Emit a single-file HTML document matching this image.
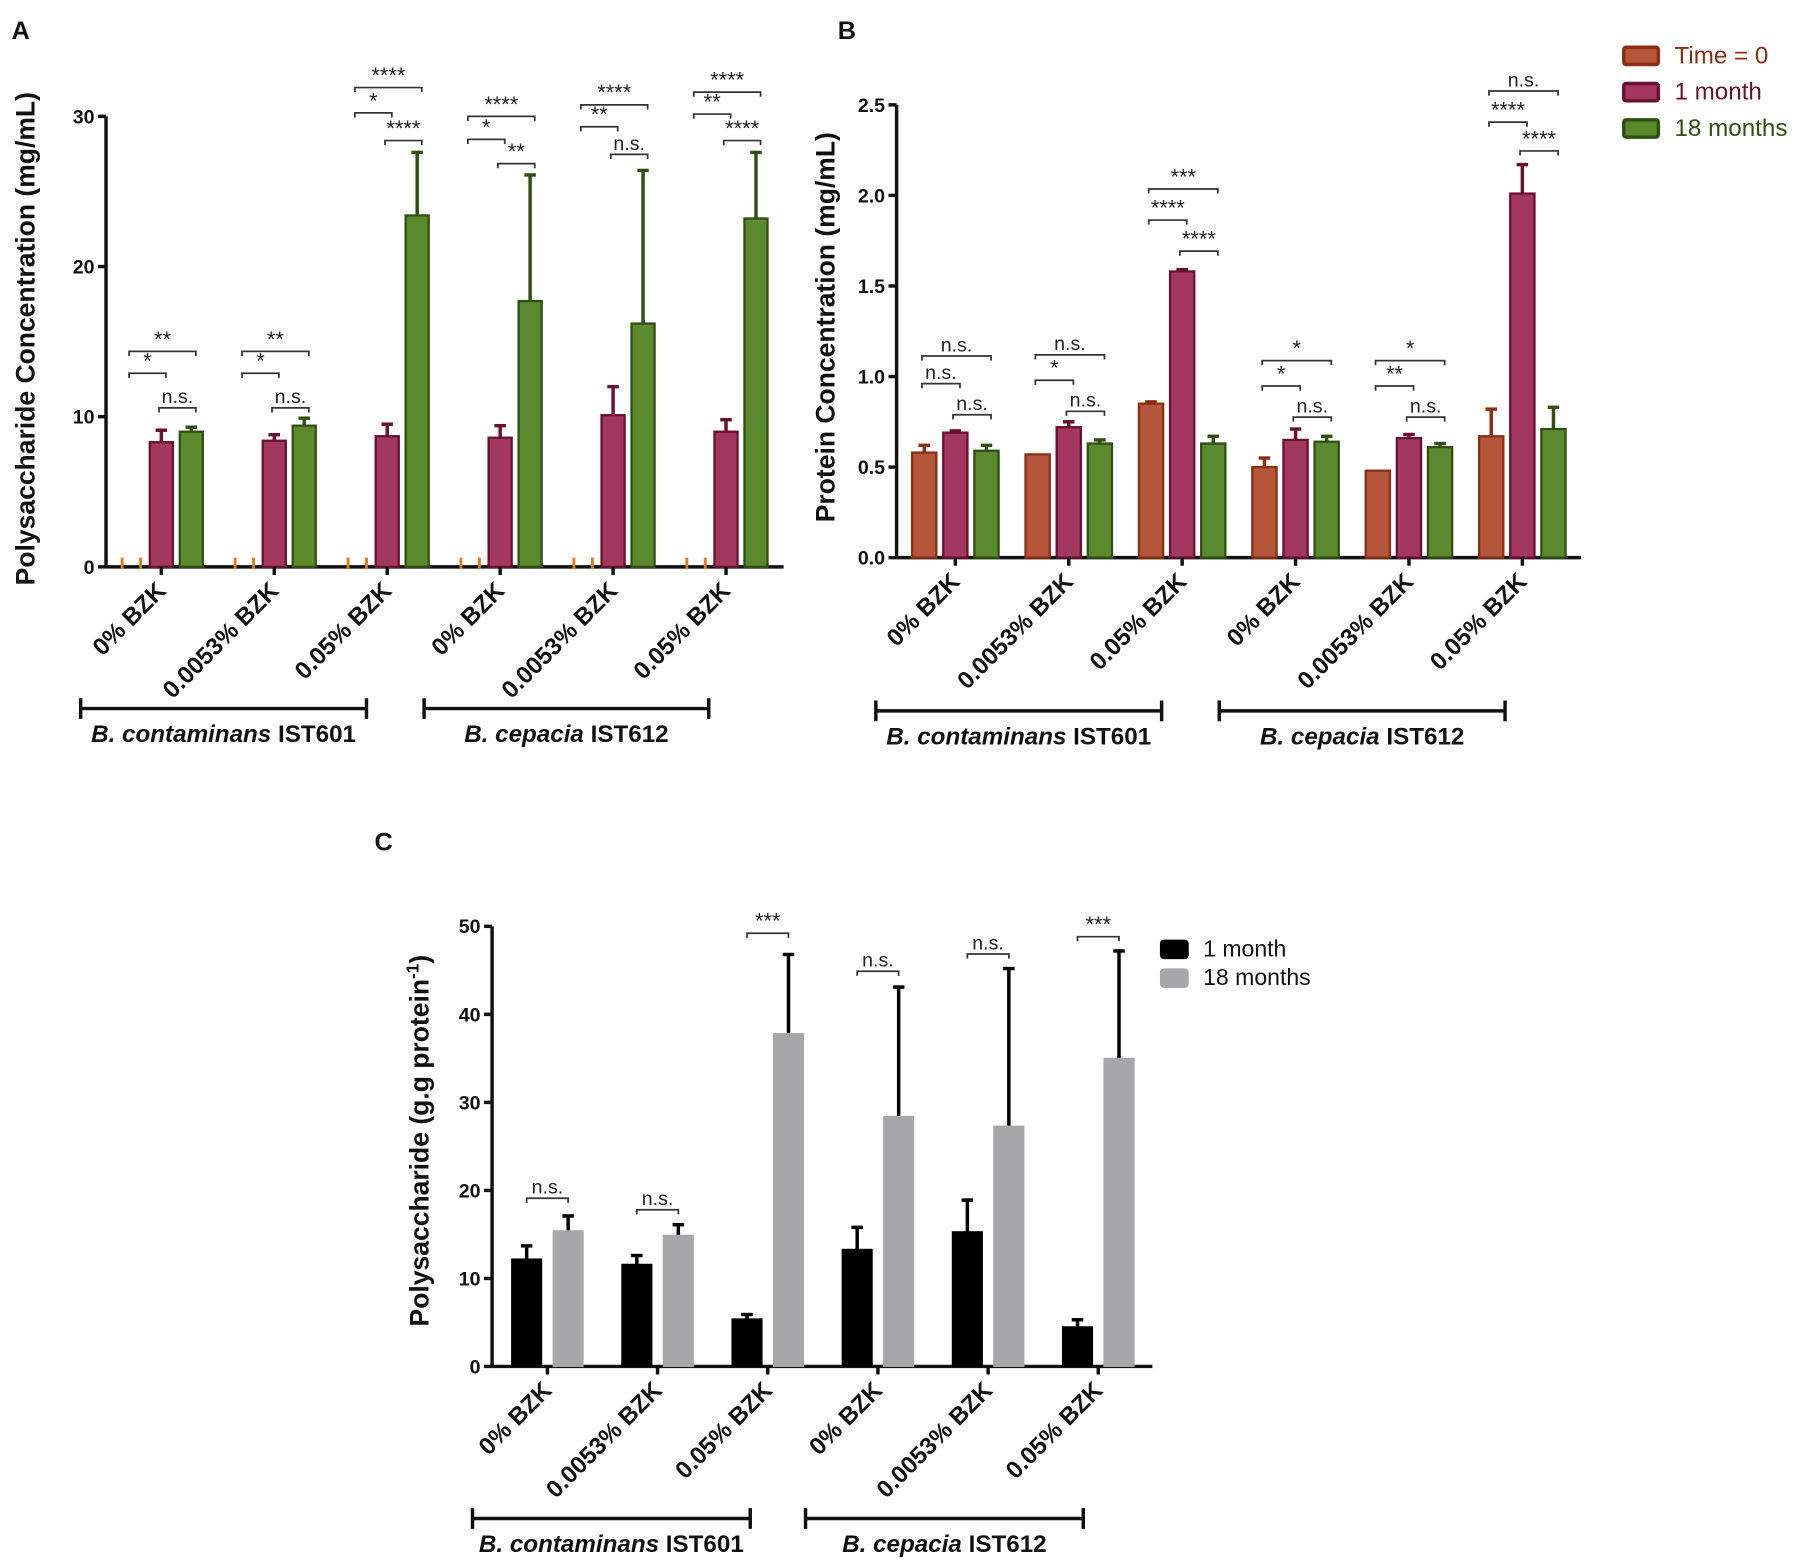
<!DOCTYPE html>
<html><head><meta charset="utf-8"><style>
html,body{margin:0;padding:0;background:#fff}
svg{display:block}
text{font-family:"Liberation Sans",sans-serif}
</style></head><body>
<svg id="fig" width="1807" height="1560" viewBox="0 0 1568 1354" preserveAspectRatio="none" xmlns="http://www.w3.org/2000/svg"></svg>
<script>
// ---------- Panel A data ----------
const catsA = ["0% BZK","0.0053% BZK","0.05% BZK","0% BZK","0.0053% BZK","0.05% BZK"];
const aT0 = [0,0,0,0,0,0];
const aM1 = [8.3,8.4,8.7,8.6,10.1,9.0];
const aM1err = [9.1,8.8,9.5,9.4,12.0,9.8];
const aM18 = [9.0,9.4,23.4,17.7,16.2,23.2];
const aM18err = [9.3,9.9,27.6,26.1,26.4,27.6];
const ticksA = [0,10,20,30];
const sigA = [[0,0,2,305,"**"],[0,0,1,324,"*"],[0,1,2,354,"n.s."],
 [1,0,2,305,"**"],[1,0,1,324,"*"],[1,1,2,354,"n.s."],
 [2,0,2,76,"****"],[2,0,1,98,"*"],[2,1,2,122,"****"],
 [3,0,2,101,"****"],[3,0,1,121,"*"],[3,1,2,142,"**"],
 [4,0,2,91,"****"],[4,0,1,110,"**"],[4,1,2,134,"n.s."],
 [5,0,2,80,"****"],[5,0,1,99,"**"],[5,1,2,122,"****"]];
// ---------- Panel B data ----------
const bT0 = [0.58,0.57,0.85,0.50,0.48,0.67];
const bT0err = [0.62,0.57,0.86,0.55,0.48,0.82];
const bM1 = [0.69,0.72,1.58,0.65,0.66,2.01];
const bM1err = [0.70,0.75,1.59,0.71,0.68,2.17];
const bM18 = [0.59,0.63,0.63,0.64,0.61,0.71];
const bM18err = [0.62,0.65,0.67,0.67,0.63,0.83];
const ticksB = [0,0.5,1.0,1.5,2.0,2.5];
const sigB = [[0,0,2,309,"n.s."],[0,0,1,333,"n.s."],[0,1,2,360,"n.s."],
 [1,0,2,308,"n.s."],[1,0,1,330,"*"],[1,1,2,357,"n.s."],
 [2,0,2,164,"***"],[2,0,1,191,"****"],[2,1,2,218,"****"],
 [3,0,2,313,"*"],[3,0,1,335,"*"],[3,1,2,362,"n.s."],
 [4,0,2,313,"*"],[4,0,1,335,"**"],[4,1,2,362,"n.s."],
 [5,0,2,79,"n.s."],[5,0,1,106,"****"],[5,1,2,131,"****"]];
// ---------- Panel C data ----------
const cM1 = [12.2,11.6,5.4,13.3,15.3,4.5];
const cM1err = [13.7,12.6,5.9,15.8,18.9,5.3];
const cM18 = [15.4,14.9,37.8,28.4,27.3,35.0];
const cM18err = [17.1,16.1,46.8,43.1,45.2,47.2];
const ticksC = [0,10,20,30,40,50];
const sigC = [[0,1040,"n.s."],[1,1050,"n.s."],[2,810,"***"],[3,843,"n.s."],[4,828,"n.s."],[5,813,"***"]];

const NS="http://www.w3.org/2000/svg";
const svg=document.getElementById('fig');
function el(tag,attrs,parent,txt){const e=document.createElementNS(NS,tag);for(const k in attrs)e.setAttribute(k,attrs[k]);if(txt!==undefined)e.textContent=txt;(parent||svg).appendChild(e);return e;}
function grp(name){const g=el('g',{});return g;}

const COL={t0:["#b5553a","#8b2e14"],m1:["#a3385f","#6b1030"],m18:["#5b8a2e","#2f5012"]};

function panel(o){
  const g=grp(o.name);
  const y=v=>o.y0-(v/o.ymax)*(o.y0-o.ytop);
  const gx=i=>o.gx0+i*o.gstep;
  const ax=el('line',{x1:o.ax,y1:o.y0,x2:o.ax,y2:o.ytop,stroke:"#111","stroke-width":3},g);
  
  o.ticks.forEach(t=>{
    el('line',{x1:o.ax-7,y1:y(t),x2:o.ax,y2:y(t),stroke:"#111","stroke-width":3},g);
    const tl=el('text',{x:o.ax-10,y:y(t)+6,"text-anchor":"end","font-size":17,"font-weight":"bold",fill:"#111"},g,o.fmt(t));
    
  });
  const xa=el('line',{x1:o.ax,y1:o.y0,x2:o.xend,y2:o.y0,stroke:"#111","stroke-width":3},g);
  
  o.series.forEach((s,si)=>{
    s.vals.forEach((v,i)=>{
      const cx=gx(i)+(si-(o.series.length-1)/2)*o.bstep;
      if(s.zeroMarks){
        [cx-o.bw/2+2,cx+o.bw/2-2].forEach(xx=>el('line',{x1:xx,y1:o.y0-8,x2:xx,y2:o.y0+2,stroke:"#e07b1a","stroke-width":2.5},g));
        return;
      }
      if(s.err){const ey=y(s.err[i]);if(s.err[i]>v){
        el('line',{x1:cx,y1:y(v),x2:cx,y2:ey,stroke:s.ecol||s.stroke,"stroke-width":3},g);
        el('line',{x1:cx-5,y1:ey,x2:cx+5,y2:ey,stroke:s.ecol||s.stroke,"stroke-width":3},g);}}
      const r=el('rect',{x:cx-o.bw/2,y:y(v),width:o.bw,height:o.y0-y(v),fill:s.fill,stroke:s.stroke,"stroke-width":s.sw||2},g);
      
    });
  });
  o.cats.forEach((c,i)=>{
    el('line',{x1:gx(i),y1:o.y0,x2:gx(i),y2:o.y0+7,stroke:"#111","stroke-width":3},g);
    const t=el('text',{x:0,y:0,"text-anchor":"end","font-size":21,"font-weight":"bold",fill:"#111",transform:`translate(${gx(i)+5},${o.y0+22}) rotate(-45)`},g,c);
    
  });
  o.sig.forEach(s=>{
    let x1,x2,yy,lab;
    if(s.length===5){x1=gx(s[0])+(s[1]-1)*o.bstep-2;x2=gx(s[0])+(s[2]-1)*o.bstep+4;yy=s[3];lab=s[4];}
    else{x1=gx(s[0])-o.bstep/2;x2=gx(s[0])+o.bstep/2;yy=s[1];lab=s[2];}
    el('path',{d:`M${x1},${yy+4}V${yy}H${x2}V${yy+4}`,fill:"none",stroke:"#333","stroke-width":1.5},g);
    const t=el('text',{x:(x1+x2)/2,y:yy-4,"text-anchor":"middle","font-size":lab.startsWith("*")?19:17,fill:"#222"},g,lab);
    
  });
  o.groups.forEach(gr=>{
    el('path',{d:`M${gr[0]},${gr[2]-9}V${gr[2]+9}M${gr[0]},${gr[2]}H${gr[1]}M${gr[1]},${gr[2]-9}V${gr[2]+9}`,stroke:"#111","stroke-width":3,fill:"none"},g);
    const t=el('text',{x:(gr[0]+gr[1])/2,y:gr[2]+29,"text-anchor":"middle","font-size":21,"font-weight":"bold",fill:"#111"},g);
    el('tspan',{"font-style":"italic"},t,gr[3]+" ");el('tspan',{},t,gr[4]);
    
  });
  const yt=el('text',{x:0,y:0,"text-anchor":"middle","font-size":23,"font-weight":"bold",fill:"#111",transform:`translate(${o.ytx},${o.yty}) rotate(-90)`},g);
  
  if(o.ytitleSup){el('tspan',{},yt,o.ytitle);el('tspan',{dy:-9,"font-size":15},yt,"-1");el('tspan',{dy:9},yt,")");}
  else yt.textContent=o.ytitle;
  const pl=el('text',{x:o.plx,y:o.ply,"font-size":22,"font-weight":"bold",fill:"#111"},g,o.letter);
  
  return g;
}

panel({name:"panel-a",letter:"A",plx:10,ply:34,ax:92,y0:492,ytop:101,ymax:30,xend:680,gx0:140,gstep:98,bw:20,bstep:26,
 ticks:ticksA,fmt:t=>String(t),cats:catsA,sig:sigA,
 series:[{key:"time0",vals:aT0,zeroMarks:true},{key:"1month",vals:aM1,err:aM1err,fill:COL.m1[0],stroke:COL.m1[1]},{key:"18months",vals:aM18,err:aM18err,fill:COL.m18[0],stroke:COL.m18[1]}],
 groups:[[70,318,615,"B. contaminans","IST601"],[368,615,615,"B. cepacia","IST612"]],
 ytitle:"Polysaccharide Concentration (mg/mL)",ytx:30,yty:294});

panel({name:"panel-b",letter:"B",plx:727,ply:34,ax:778,y0:484,ytop:91,ymax:2.5,xend:1372,gx0:829,gstep:98.4,bw:21,bstep:27,
 ticks:ticksB,fmt:t=>t.toFixed(1),cats:catsA,sig:sigB,
 series:[{key:"time0",vals:bT0,err:bT0err,fill:COL.t0[0],stroke:COL.t0[1]},{key:"1month",vals:bM1,err:bM1err,fill:COL.m1[0],stroke:COL.m1[1]},{key:"18months",vals:bM18,err:bM18err,fill:COL.m18[0],stroke:COL.m18[1]}],
 groups:[[760,1008,617,"B. contaminans","IST601"],[1058,1306,617,"B. cepacia","IST612"]],
 ytitle:"Protein Concentration (mg/mL)",ytx:724,yty:284});

panel({name:"panel-c",letter:"C",plx:325,ply:738,ax:427,y0:1186,ytop:804,ymax:50,xend:1000,gx0:475,gstep:95.6,bw:26,bstep:36,
 ticks:ticksC,fmt:t=>String(t),cats:catsA,sig:sigC,
 series:[{key:"1month",vals:cM1,err:cM1err,fill:"#000",stroke:"#000",sw:1},{key:"18months",vals:cM18,err:cM18err,fill:"#a7a7aa",stroke:"#a7a7aa",ecol:"#000",sw:1}],
 groups:[[410,651,1318,"B. contaminans","IST601"],[699,940,1318,"B. cepacia","IST612"]],
 ytitle:"Polysaccharide (g.g protein",ytitleSup:true,ytx:372,yty:990});

function legend(name,items,x,y0,dy,bw,bh,fs,txtCol){
  const g=grp(name);
  items.forEach((it,i)=>{
    const yy=y0+i*dy;
    el('rect',{x:x,y:yy,width:bw,height:bh,fill:it[1],stroke:it[2],"stroke-width":3,rx:2},g);
    const t=el('text',{x:x+bw+14,y:yy+bh-1,"font-size":fs,fill:txtCol?it[2]:"#111"},g,it[0]);
    
  });
}
legend("legend-b",[["Time = 0",COL.t0[0],COL.t0[1]],["1 month",COL.m1[0],COL.m1[1]],["18 months",COL.m18[0],COL.m18[1]]],1409,41,31.5,30,15,21,true);
legend("legend-c",[["1 month","#000","#000"],["18 months","#a7a7aa","#a7a7aa"]],1008,817,25,22,14,20,false);
</script>
</body></html>
